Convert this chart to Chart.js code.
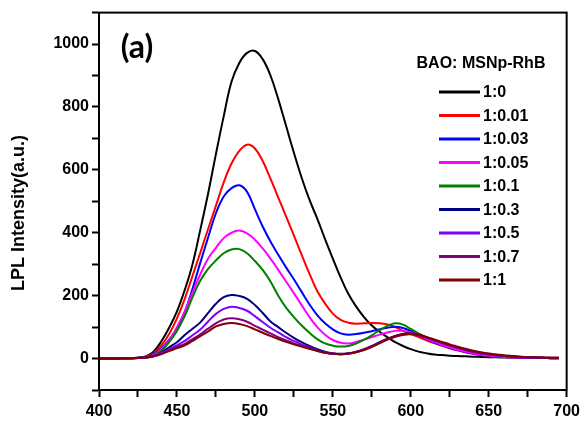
<!DOCTYPE html>
<html>
<head>
<meta charset="utf-8">
<script src="https://cdn.jsdelivr.net/npm/chart.js@4.4.0/dist/chart.umd.min.js"></script>
<style>
  html, body { margin: 0; padding: 0; background: #fff; }
  #wrap { width: 585px; height: 426px; }
</style>
</head>
<body>
<div id="wrap"><canvas id="myChart" width="585" height="426"></canvas></div>
<script>
// wavelength (nm)
let wavelengths = [400,405,410,415,420,425,430,435,440,445,450,455,460,465,470,475,480,485,490,495,
  500,505,510,515,520,525,530,535,540,545,550,555,560,565,570,575,580,585,590,595,
  600,605,610,615,620,625,630,635,640,645,650,655,660,665,670,675,680,685,690,695];

let ratios = ['1:0', '1:0.01', '1:0.03', '1:0.05', '1:0.1', '1:0.3', '1:0.5', '1:0.7', '1:1'];
let colors = ['#000000', '#ff0000', '#0000ff', '#ff00ff', '#008000', '#000080', '#8000ff', '#800080', '#800000'];

let yTicks = [0, 200, 400, 600, 800, 1000];
let xTicks = [400, 450, 500, 550, 600, 650, 700];

let s0 = [0,0,0,1,1,3,7,22,55,98,150,218,300,410,525,650,770,880,940,972,
  978,952,900,825,740,655,575,505,445,380,318,258,205,165,132,105,85,68,52,40,
  30,22,17,13,11,9,8,7,6,5,4,4,3,3,2,2,2,2,1,1];
let s1 = [0,0,0,1,1,2,6,17,42,78,128,190,263,337,412,486,560,620,660,680,
  668,628,572,512,452,392,330,270,215,175,143,123,114,111,112,113,112,108,100,88,
  78,68,58,49,41,33,26,20,15,11,8,6,5,4,3,2,2,2,1,1];
let s2 = [0,0,0,1,1,2,5,14,33,60,95,148,222,305,385,462,515,542,551,530,
  475,420,372,330,290,252,212,172,138,112,93,80,76,78,82,87,93,98,101,97,
  88,75,62,51,42,34,27,21,16,12,9,7,5,4,3,2,2,2,1,1];
let s3 = [0,0,0,1,1,2,4,12,30,58,100,150,210,268,318,352,383,400,407,398,
  378,350,318,282,245,208,170,132,100,76,59,50,48,53,60,68,76,83,88,88,
  83,74,63,53,44,36,28,22,17,12,9,7,5,4,3,3,2,2,1,1];
let s4 = [0,0,0,1,1,2,4,10,25,52,88,135,195,248,285,312,335,347,348,335,
  310,282,245,200,162,132,105,82,62,48,41,38,40,48,60,74,90,104,112,108,
  94,80,68,58,50,42,36,29,23,18,15,12,10,8,6,5,4,3,2,2];
let s5 = [0,0,0,1,1,2,3,8,20,36,52,75,95,115,145,174,195,202,199,190,
  170,145,118,100,82,66,52,40,30,22,17,15,17,22,30,40,52,63,72,78,
  80,76,68,59,51,43,35,28,22,17,13,10,8,6,5,4,3,2,2,2];
let s6 = [0,0,0,1,1,2,3,8,18,30,42,56,74,92,118,142,158,165,161,152,
  135,116,98,83,68,56,45,35,26,19,15,14,16,21,29,39,50,62,71,77,
  78,74,67,59,50,42,35,28,22,17,13,10,8,6,5,4,3,2,2,2];
let s7 = [0,0,0,1,1,2,3,7,15,26,37,47,62,77,95,112,124,128,125,117,
  104,92,80,68,58,48,40,32,25,18,15,14,16,21,28,38,49,60,69,75,
  77,73,66,58,50,42,35,28,23,18,14,11,8,6,5,4,3,3,2,2];
let s8 = [0,0,0,1,1,2,3,7,14,24,33,42,56,71,86,102,110,113,110,103,
  93,82,72,62,53,45,38,31,24,18,15,14,15,20,27,37,49,61,71,77,
  79,76,69,61,53,45,38,31,25,20,16,13,10,8,6,5,4,3,3,3];

let series = [s0, s1, s2, s3, s4, s5, s6, s7, s8];

let font = "'Liberation Sans', Arial, sans-serif";

let datasets = [];
for (let i = 0; i < series.length; i++) {
  datasets.push({
    label: ratios[i],
    data: wavelengths.map((w, j) => ({x: w, y: series[i][j]})),
    borderColor: colors[i],
    backgroundColor: colors[i],
    borderWidth: 2,
    pointRadius: 0,
    tension: 0.4,
    fill: false,
    order: series.length - i
  });
}

const extras = {
  id: 'extras',
  afterDraw(chart) {
    let c = chart.ctx;
    let a = chart.chartArea;
    c.save();
    // box frame
    c.strokeStyle = '#000';
    c.lineWidth = 2;
    c.strokeRect(a.left, a.top, a.right - a.left, a.bottom - a.top);

    // y title
    c.fillStyle = '#000';
    c.font = 'bold 18px ' + font;
    c.textAlign = 'center';
    c.textBaseline = 'middle';
    c.translate(19, 213);
    c.rotate(-Math.PI / 2);
    c.fillText('LPL Intensity(a.u.)', 0, 0);
    c.setTransform(1, 0, 0, 1, 0, 0);

    // panel label
    c.font = 'bold 32px Lato, sans-serif';
    c.fillText('(a)', 137, 48);

    // legend
    c.font = 'bold 16px ' + font;
    c.fillText('BAO: MSNp-RhB', 481, 64);
    c.textAlign = 'left';
    chart.data.datasets.forEach((ds, i) => {
      let y = 92 + i * 23.5;
      c.strokeStyle = ds.borderColor;
      c.lineWidth = 3;
      c.beginPath();
      c.moveTo(439, y);
      c.lineTo(480, y);
      c.stroke();
      c.fillStyle = '#000';
      c.fillText(ds.label, 483, y + 1);
    });
    c.restore();
  }
};

let ctx = document.getElementById('myChart').getContext('2d');
const myChart = new Chart(ctx, {
  type: 'line',
  data: { datasets: datasets },
  options: {
    responsive: false,
    animation: false,
    devicePixelRatio: 1,
    layout: { padding: { left: 0, top: 10, right: 16, bottom: 0 } },
    plugins: {
      legend: { display: false },
      tooltip: { enabled: false }
    },
    scales: {
      x: {
        type: 'linear',
        min: 400,
        max: 700,
        afterFit: s => { s.height = 36; },
        afterBuildTicks: s => {
          let t = [];
          for (let v = 400; v <= 700; v += 25) t.push({value: v});
          s.ticks = t;
        },
        ticks: {
          autoSkip: false,
          maxRotation: 0,
          color: '#000',
          padding: 5,
          font: { family: font, size: 16, weight: 'bold' },
          callback: v => xTicks.includes(v) ? v : ''
        },
        grid: { drawOnChartArea: false, drawTicks: true, tickLength: 7, tickColor: '#000', tickWidth: 2 },
        border: { display: true, color: '#000', width: 2 }
      },
      y: {
        type: 'linear',
        min: -100,
        max: 1100,
        afterFit: s => { s.width = 99; },
        afterBuildTicks: s => {
          let t = [];
          for (let v = -100; v <= 1100; v += 100) t.push({value: v});
          s.ticks = t;
        },
        ticks: {
          autoSkip: false,
          color: '#000',
          padding: 3,
          font: { family: font, size: 16, weight: 'bold' },
          callback: v => yTicks.includes(v) ? v : ''
        },
        grid: { drawOnChartArea: false, drawTicks: true, tickLength: 7, tickColor: '#000', tickWidth: 2 },
        border: { display: true, color: '#000', width: 2 }
      }
    }
  },
  plugins: [extras]
});
</script>
</body>
</html>
